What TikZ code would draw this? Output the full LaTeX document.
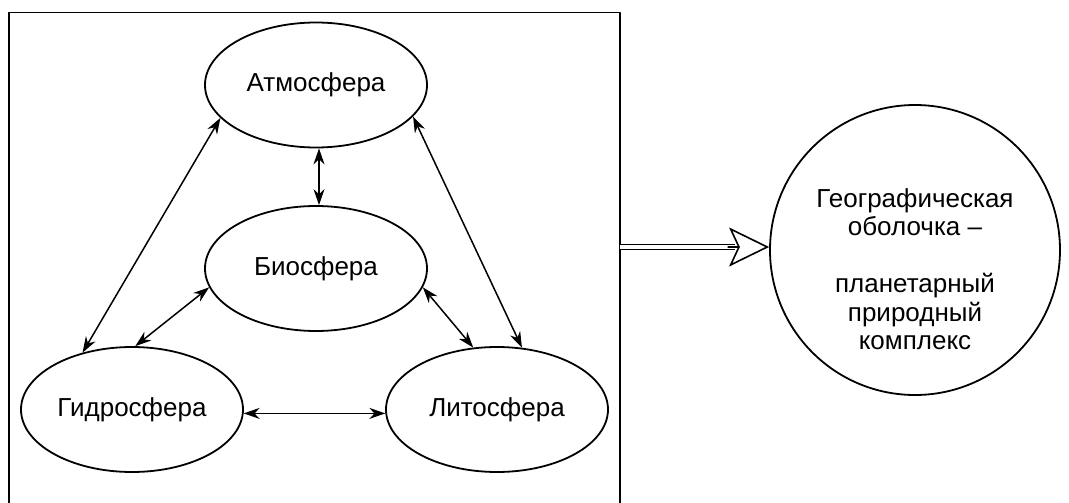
\documentclass[tikz,border=0pt]{standalone}
\usepackage{fontspec}
\setmainfont{Liberation Sans}
\usetikzlibrary{arrows.meta}
\usetikzlibrary{shapes.geometric}

\begin{document}
\begin{tikzpicture}[line cap=round,line join=round, x=1pt,y=-1pt,
		sphere/.style={ellipse,draw,line width=1.8pt,minimum width=222pt,minimum height=125pt,inner sep=0pt,font=\fontsize{26}{30}\selectfont},
		link/.style={{Stealth[length=16pt,width=11pt]}-{Stealth[length=16pt,width=11pt]},line width=1.5pt}]
						\useasboundingbox (0,0) rectangle (1069,503);
						% frame round the four spheres (open at the bottom)
						\draw[line width=1.8pt] (9,503) -- (9,12.5) -- (620,12.5) -- (620,503);
						\node[sphere] (atm) at (316,85) {Атмосфера};
						\node[sphere] (bio) at (316,268.5) {Биосфера};
						\node[sphere] (hyd) at (132,409.5) {Гидросфера};
						\node[sphere] (lit) at (497,409.5) {Литосфера};
						\draw[link] ([xshift=3pt]atm.south) -- ([xshift=3pt]bio.north);
						\draw[link] (hyd.131) -- (atm.199);
						\draw[link] (hyd.87) -- (bio.190);
						\draw[link] (lit.111) -- (bio.350);
						\draw[link] (lit.68) -- (atm.342);
						\draw[link] (hyd.-2) -- (lit.182);
						% result
						\node[circle,draw,line width=1.8pt,minimum size=290pt,inner sep=0pt] (geo) at (915,250) {};
						\node[align=center,font=\fontsize{26}{28.5}\selectfont] (geotxt) at ([yshift=-19pt]geo.center) {Географическая\\оболочка –\\[28.5pt]планетарный\\природный\\комплекс};
						\coordinate (frameE) at (620,247);
						\draw[line width=1.6pt,line cap=butt,double distance=3.5pt,shorten >=34pt] (frameE) -- (frameE -| geo.west);
						\draw[line width=1.6pt,-{Stealth[open,fill=white,length=40pt,width=39pt,inset=9pt]}] ([xshift=-41pt]frameE -| geo.west) -- (frameE -| geo.west);
					\end{tikzpicture}
\end{document}
